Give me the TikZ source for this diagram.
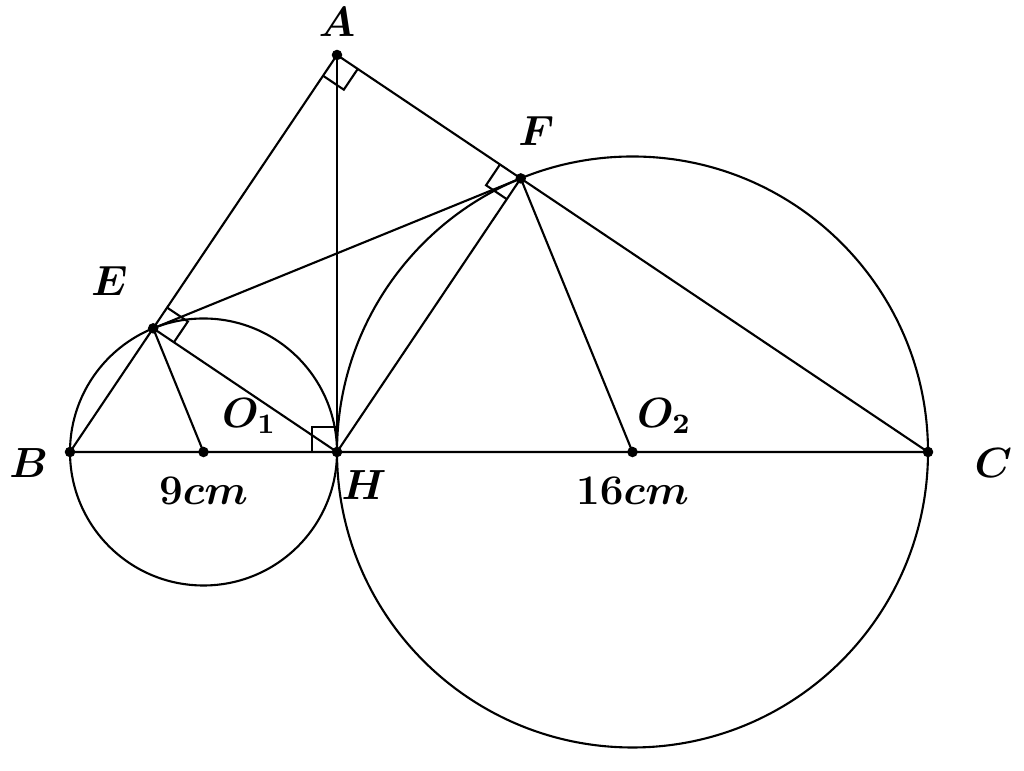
\documentclass[tikz,border=0pt]{standalone}
\usepackage{amsmath}
\usetikzlibrary{calc,positioning}
\newcommand\sqmark[3]{% vertex, leg one, leg two
  \coordinate (ra1) at ($(#1)!0.25cm!(#2)$);
  \coordinate (ra2) at ($(#1)!0.25cm!(#3)$);
  \draw (ra1) -- ($(ra1)+(ra2)-(#1)$) -- (ra2);
}
\tikzset{%
  dot/.style={circle,fill=black,inner sep=0pt,minimum size=3pt},
  lbl/.style={font=\large,inner sep=1pt}
}
\begin{document}
\begin{tikzpicture}[line width=0.6pt]
	\useasboundingbox (0,0) rectangle (10.24,7.71);
	%% points
	\coordinate (B) at (0.70,3.19);
	\coordinate (H) at (3.37,3.19);
	\coordinate (C) at (9.28,3.19);
	\coordinate (A) at (3.37,7.16);
	\coordinate (E) at ($(A)!(H)!(B)$);
	\coordinate (F) at ($(A)!(H)!(C)$);
	\coordinate (O1) at ($(B)!0.5!(H)$);
	\coordinate (O2) at ($(H)!0.5!(C)$);
	%% circles
	\draw (O1) circle (1.335);
	\draw (O2) circle (2.955);
	%% segments
	\draw (A) -- (B) -- (C) -- cycle;
	\draw (A) -- (H);
	\draw (E) -- (F) -- (H) -- (E);
	\draw (E) -- (O1);
	\draw (F) -- (O2);
	%% right angles
	\sqmark{A}{B}{C}
	\sqmark{E}{A}{H}
	\sqmark{F}{A}{H}
	\sqmark{H}{B}{A}
	%% dots and labels
	\foreach \p in {A,B,C,E,F,H,O1,O2} \node[dot] at (\p) {};
	\node[lbl,above=4pt of A] {$\boldsymbol{A}$};
	\node[lbl,left=5pt of B,yshift=-3pt] {$\boldsymbol{B}$};
	\node[lbl,right=12pt of C,yshift=-3pt] {$\boldsymbol{C}$};
	\node[lbl,above left=8pt and 6pt of E] {$\boldsymbol{E}$};
	\node[lbl,above right=8pt and -2pt of F] {$\boldsymbol{F}$};
	\node[lbl,below right=4pt and 0pt of H] {$\boldsymbol{H}$};
	\node[lbl,above right=4pt and 4pt of O1] {$\boldsymbol{O_1}$};
	\node[lbl,above right=4pt and 0pt of O2] {$\boldsymbol{O_2}$};
	\node[lbl,below=6pt of O1] {$\boldsymbol{9cm}$};
	\node[lbl,below=6pt of O2] {$\boldsymbol{16cm}$};
\end{tikzpicture}
\end{document}
